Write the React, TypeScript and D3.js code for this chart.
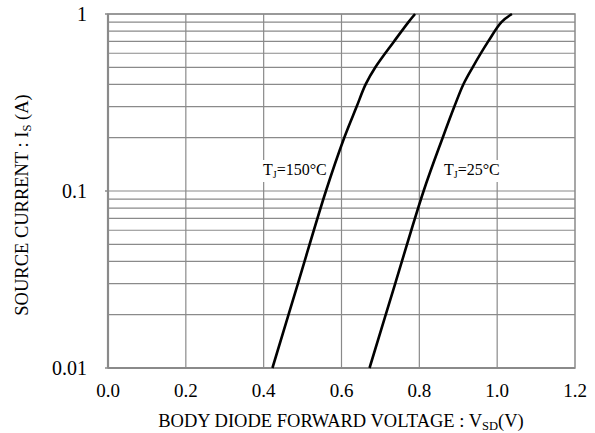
import React from "react";
import * as d3 from "d3";

const xTicks = [0.0, 0.2, 0.4, 0.6, 0.8, 1.0, 1.2];
const xTickLabels = ["0.0", "0.2", "0.4", "0.6", "0.8", "1.0", "1.2"];
const yMajor = [0.01, 0.1, 1];
const yMajorLabels = ["0.01", "0.1", "1"];

const current150 = [0.01, 0.03, 0.1, 0.2, 0.3, 0.4, 0.5, 0.7, 0.9, 1.0];
const voltage150 = [0.4225, 0.488, 0.56, 0.607, 0.639, 0.662, 0.687, 0.735, 0.772, 0.789];

const current25 = [0.01, 0.03, 0.1, 0.2, 0.3, 0.4, 0.5, 0.7, 0.9, 1.0];
const voltage25 = [0.672, 0.738, 0.811, 0.86, 0.89, 0.913, 0.937, 0.977, 1.011, 1.038];

const W = 595;
const H = 433;
const L = 108, R = 575, T = 14, B = 368;
const FONT = "'Liberation Serif', 'Times New Roman', serif";
const GRID = "#8a8a8a";

export default function App() {
  const x = d3.scaleLinear().domain([0, 1.2]).range([L, R]);
  const y = d3.scaleLog().domain([0.01, 1]).range([B, T]);
  const minor = y.ticks();
  const line = d3
    .line<[number, number]>()
    .x((d) => x(d[0]))
    .y((d) => y(d[1]))
    .curve(d3.curveCatmullRom.alpha(0.5));
  const d150 = line(voltage150.map((v, i) => [v, current150[i]] as [number, number])) || "";
  const d25 = line(voltage25.map((v, i) => [v, current25[i]] as [number, number])) || "";

  return (
    <svg
      width={W}
      height={H}
      style={{ position: "absolute", left: 0, top: 0, background: "#fff" }}
      fontFamily={FONT}
    >
      <rect x={0} y={0} width={W} height={H} fill="#fff" />
      {minor.map((t, i) => (
        <line key={"h" + i} x1={L} x2={R} y1={y(t)} y2={y(t)} stroke={GRID} strokeWidth={1.2} />
      ))}
      {xTicks.slice(1, -1).map((t, i) => (
        <line key={"v" + i} x1={x(t)} x2={x(t)} y1={T} y2={B} stroke={GRID} strokeWidth={1.2} />
      ))}
      {yMajor.map((t, i) => (
        <line key={"mt" + i} x1={L - 3} x2={L} y1={y(t)} y2={y(t)} stroke={GRID} strokeWidth={1.5} />
      ))}
      <rect x={L} y={T} width={R - L} height={B - T} fill="none" stroke={GRID} strokeWidth={1.5} />
      <line x1={L} x2={L} y1={T} y2={B} stroke={GRID} strokeWidth={2.2} />
      <line x1={L} x2={R} y1={B} y2={B} stroke={GRID} strokeWidth={2.2} />

      {/* labels with white backgrounds */}
      <rect x={261} y={160} width={67} height={22} fill="#fff" />
      <rect x={442} y={160} width={60} height={22} fill="#fff" />

      <path d={d150} fill="none" stroke="#000" strokeWidth={2.6} />
      <path d={d25} fill="none" stroke="#000" strokeWidth={2.6} />

      <text x={263} y={175} fontSize={16} fill="#000">
        T<tspan dy={3} fontSize={10}>J</tspan>
        <tspan dy={-3}>=150°C</tspan>
      </text>
      <text x={444} y={175} fontSize={16} fill="#000">
        T<tspan dy={3} fontSize={10}>J</tspan>
        <tspan dy={-3}>=25°C</tspan>
      </text>

      {xTicks.map((t, i) => (
        <text key={"xl" + i} x={x(t)} y={397} fontSize={19} textAnchor="middle" fill="#000">
          {xTickLabels[i]}
        </text>
      ))}
      {yMajor.map((t, i) => (
        <text key={"yl" + i} x={87} y={y(t)} dy="0.35em" fontSize={20} textAnchor="end" fill="#000">
          {yMajorLabels[i]}
        </text>
      ))}

      <text x={341} y={427} fontSize={18.5} textAnchor="middle" fill="#000">
        BODY DIODE FORWARD VOLTAGE : V<tspan dy={3} fontSize={12.5}>SD</tspan>
        <tspan dy={-3}>(V)</tspan>
      </text>
      <text
        x={0}
        y={0}
        fontSize={18.5}
        textAnchor="middle"
        fill="#000"
        transform={`translate(28,205) rotate(-90)`}
      >
        SOURCE CURRENT : I<tspan dy={3} fontSize={12.5}>S</tspan>
        <tspan dy={-3}> (A)</tspan>
      </text>
    </svg>
  );
}
